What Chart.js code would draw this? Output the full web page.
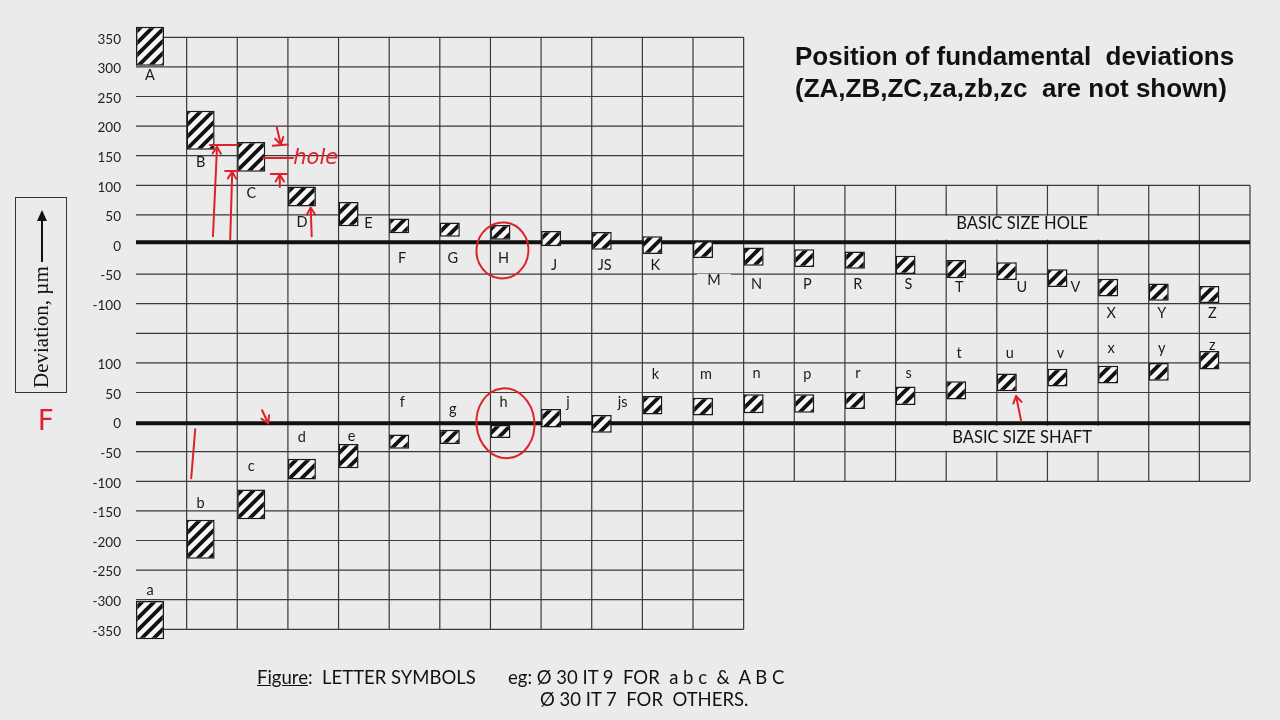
<!DOCTYPE html>
<html><head><meta charset="utf-8">
<script src="https://cdn.jsdelivr.net/npm/chart.js@4.4.1/dist/chart.umd.min.js"></script>
<style>
html,body{margin:0;padding:0;background:#ebebeb;}
#wrap{position:relative;width:1280px;height:720px;overflow:hidden;background:#ebebeb;}
#c{position:absolute;left:0;top:0;}
.title{position:absolute;left:795px;top:40px;font-family:"Liberation Sans",Arial,sans-serif;font-weight:bold;font-size:26px;line-height:32px;color:#111;white-space:pre;}
.ybox{position:absolute;left:15px;top:197px;width:52px;height:196px;border:1px solid #333;box-sizing:border-box;}
.yinner{position:absolute;left:50%;top:50%;width:196px;height:52px;margin-left:-98px;margin-top:-26px;transform:rotate(-90deg);display:flex;align-items:center;justify-content:flex-start;padding-left:5px;box-sizing:border-box;font-family:"Liberation Serif","Times New Roman",serif;font-size:21px;color:#111;white-space:pre;}
.arrow{display:inline-block;position:relative;width:48px;height:1.6px;background:#111;margin-left:4px;top:1px;}
.arrow:after{content:"";position:absolute;right:-4px;top:-4.2px;border-left:11px solid #111;border-top:5px solid transparent;border-bottom:5px solid transparent;}
.cap{position:absolute;font-family:Lato,"Open Sans",sans-serif;font-size:18.5px;line-height:20px;color:#111;white-space:pre;}
</style>
</head><body>
<div id="wrap">
<canvas id="c" width="1280" height="720"></canvas>
<div class="title">Position of fundamental  deviations
(ZA,ZB,ZC,za,zb,zc  are not shown)</div>
<div class="ybox"><div class="yinner">Deviation, µm<span class="arrow"></span></div></div>
<div class="cap" style="left:257px;top:667px;"><u>Figure</u>:  LETTER SYMBOLS</div>
<div class="cap" style="left:508px;top:667px;">eg: Ø 30 IT 9  FOR  a b c  &amp;  A B C</div>
<div class="cap" style="left:540px;top:689px;">Ø 30 IT 7  FOR  OTHERS.</div>
</div>
<script>
// ---- data (µm) ----
const holeLetters  = ['A','B','C','D','E','F','G','H','J','JS','K','M','N','P','R','S','T','U','V','X','Y','Z'];
const shaftLetters = ['a','b','c','d','e','f','g','h','j','js','k','m','n','p','r','s','t','u','v','x','y','z'];
const holeLower  = [302,160,123,64,31,19,13,8,-3,-9,-16,-23,-36,-38,-41,-50,-57,-60,-72,-88,-95,-99];
const holeUpper  = [368,226,173,98,72,44,37,33,23,21,14,6,-5,-8,-12,-19,-26,-30,-42,-58,-66,-70];
const shaftLower = [-367,-231,-164,-97,-78,-45,-37,-27,-9,-18,13,11,15,16,22,29,38,52,60,65,70,89];
const shaftUpper = [-302,-165,-114,-62,-37,-21,-13,-5,22,12,44,41,47,47,51,60,69,82,90,95,100,120];
// where each letter label sits (µm, same axis as its box)
const holeLabelAt  = [285,138,87,38,35,-23,-23,-23,-35,-36,-36,-60,-67,-67,-68,-67,-72,-72,-72,-116,-116,-116];
const shaftLabelAt = [-284,-138,-74,-25,-24,34,22,34,34,34,81,81,83,81,83,83,117,117,117,124,124,130];
// tick labels
const holeTicks  = [350,300,250,200,150,100,50,0,-50,-100];
const shaftTicks = [100,50,0,-50,-100,-150,-200,-250,-300,-350];
const IT9_COUNT = 4;          // a b c d / A B C D drawn with IT9 width
const SHAFT_SHIFT = -300;     // shaft diagram drawn 300 µm below the hole diagram
const FULL_COLS = 12;         // columns A..M span the full height

// red hand-written annotations: [column units from left edge, plotted µm]
const annotations = [
  {t:'arrow', p:[[1.52,14],[1.60,165]]},
  {t:'line',  p:[[1.46,168],[1.99,168]]},
  {t:'arrow', p:[[1.86,8],[1.90,123]]},
  {t:'line',  p:[[1.76,124],[2.01,124]]},
  {t:'arrow', p:[[2.78,198],[2.86,169]]},
  {t:'line',  p:[[2.70,167],[3.00,169]]},
  {t:'line',  p:[[2.51,146],[3.10,146]]},
  {t:'text',  p:[[3.55,146]], s:'hole', f:'italic 21px "DejaVu Sans"'},
  {t:'arrow', p:[[2.84,97],[2.84,118]]},
  {t:'line',  p:[[2.66,119],[2.98,119]]},
  {t:'arrow', p:[[3.47,14],[3.45,62]]},
  {t:'line',  p:[[1.17,-312],[1.09,-395]]},
  {t:'arrow', p:[[2.49,-280],[2.61,-302]]},
  {t:'arrow', p:[[17.48,-298],[17.38,-256]]},
  {t:'text',  p:[[-1.78,-301]], s:'F', f:'28px "DejaVu Sans"'}
];

// ---- helpers ----
const BG = '#ebebeb';
function hatchPattern(){
  const s=12, c=document.createElement('canvas'); c.width=c.height=s;
  const g=c.getContext('2d');
  g.fillStyle='#f6f6f6'; g.fillRect(0,0,s,s);
  g.strokeStyle='#111'; g.lineWidth=3.8; g.lineCap='butt';
  g.beginPath();
  g.moveTo(-1,s+1); g.lineTo(s+1,-1);
  g.moveTo(-4,4); g.lineTo(4,-4);
  g.moveTo(s-4,s+4); g.lineTo(s+4,s-4);
  g.stroke();
  return c;
}
function pick(lo,hi,shift,cond){ return lo.map((v,i)=>cond(i)?[v+shift,hi[i]+shift]:null); }

const labelNudge = {E:17, M:8, U:12, V:15, j:14, js:18};
const knockout = {M:true};

const gridPlugin = {
  id:'gridPlugin',
  beforeDatasetsDraw(chart){
    const {ctx, scales:{x,y}} = chart;
    const n = holeLetters.length;
    const band = x.getPixelForValue(1)-x.getPixelForValue(0);
    const edge = i => x.getPixelForValue(0) - band/2 + band*i;
    const yTop = y.getPixelForValue(350), yBot = y.getPixelForValue(-650);
    const rTop = y.getPixelForValue(100), rBot = y.getPixelForValue(-400);
    ctx.save();
    ctx.strokeStyle='#3a3a3a'; ctx.lineWidth=1.2;
    ctx.beginPath();
    for(let v=350; v>=-650; v-=50){
      if(v===0||v===-300) continue;
      const py=y.getPixelForValue(v);
      ctx.moveTo(edge(0),py);
      ctx.lineTo((v<=100&&v>=-400)?edge(n):edge(FULL_COLS),py);
    }
    for(let i=1;i<=n;i++){
      const px=edge(i);
      if(i<=FULL_COLS){ ctx.moveTo(px,yTop); ctx.lineTo(px,yBot); }
      else { ctx.moveTo(px,rTop); ctx.lineTo(px,rBot); }
    }
    ctx.stroke();
    // basic size lines
    const hy=y.getPixelForValue(4), sy=y.getPixelForValue(-302);
    ctx.strokeStyle='#111'; ctx.lineWidth=4;
    ctx.beginPath();
    ctx.moveTo(edge(0),hy); ctx.lineTo(edge(n),hy);
    ctx.moveTo(edge(0),sy); ctx.lineTo(edge(n),sy);
    ctx.stroke();
    // BASIC SIZE labels
    const l=edge(15)+1, r=edge(20)-1;
    ctx.fillStyle=BG;
    const h1=y.getPixelForValue(50)+1, h2=hy-2.5;
    const s1=sy+2.5, s2=y.getPixelForValue(-350)-1;
    ctx.fillRect(l,h1,r-l,h2-h1);
    ctx.fillRect(l,s1,r-l,s2-s1);
    ctx.fillStyle='#111'; ctx.font='16.5px Lato'; ctx.textAlign='center'; ctx.textBaseline='middle';
    ctx.fillText('BASIC SIZE HOLE',(l+r)/2,(h1+h2)/2-4);
    ctx.fillText('BASIC SIZE SHAFT',(l+r)/2,(s1+s2)/2-1);
    ctx.restore();
  },
  afterDatasetsDraw(chart){
    const {ctx, scales:{x,y}} = chart;
    const band = x.getPixelForValue(1)-x.getPixelForValue(0);
    const X = c => x.getPixelForValue(0) - band/2 + band*c;
    ctx.save();
    ctx.font='14.5px Lato'; ctx.textAlign='center'; ctx.textBaseline='middle';
    const draw=(txt,meta,i,val,shift)=>{
      const el=chart.getDatasetMeta(meta).data[i];
      const px=el.x+(i>=IT9_COUNT?3:0)+(labelNudge[txt]||0);
      const py=y.getPixelForValue(val+shift);
      if(knockout[txt]){ ctx.fillStyle=BG; ctx.fillRect(px-17,py-6,34,12); }
      ctx.fillStyle='#1a1a1a'; ctx.fillText(txt,px,py);
    };
    holeLetters.forEach((t,i)=>draw(t,i<IT9_COUNT?0:1,i,holeLabelAt[i],0));
    shaftLetters.forEach((t,i)=>draw(t,i<IT9_COUNT?2:3,i,shaftLabelAt[i],SHAFT_SHIFT));
    // red annotations
    const red='#e0202a';
    ctx.strokeStyle=red; ctx.fillStyle=red; ctx.lineWidth=2; ctx.lineCap='round'; ctx.lineJoin='round';
    const H=chart.getDatasetMeta(1).data[7], h=chart.getDatasetMeta(3).data[7];
    ctx.beginPath(); ctx.ellipse(H.x+2,y.getPixelForValue(-10),26,28,0.1,0,Math.PI*2); ctx.stroke();
    ctx.beginPath(); ctx.ellipse(h.x+5,y.getPixelForValue(-302),29,35,-0.1,0,Math.PI*2); ctx.stroke();
    annotations.forEach(a=>{
      const pts=a.p.map(([c,v])=>[X(c),y.getPixelForValue(v)]);
      if(a.t==='text'){ ctx.font=a.f; ctx.fillText(a.s,pts[0][0],pts[0][1]); return; }
      ctx.beginPath(); ctx.moveTo(pts[0][0],pts[0][1]);
      pts.slice(1).forEach(q=>ctx.lineTo(q[0],q[1])); ctx.stroke();
      if(a.t==='arrow'){
        const [x1,y1]=pts[pts.length-2], [x2,y2]=pts[pts.length-1];
        const ang=Math.atan2(y2-y1,x2-x1), L=8;
        ctx.beginPath();
        ctx.moveTo(x2-L*Math.cos(ang-0.55),y2-L*Math.sin(ang-0.55));
        ctx.lineTo(x2,y2);
        ctx.lineTo(x2-L*Math.cos(ang+0.55),y2-L*Math.sin(ang+0.55));
        ctx.stroke();
      }
    });
    ctx.restore();
  }
};

function build(){
  const pat = document.getElementById('c').getContext('2d').createPattern(hatchPattern(),'repeat');
  const common = {backgroundColor:pat, borderColor:'#1a1a1a', borderWidth:1.5, borderSkipped:false, stack:'box'};
  const it9 = {categoryPercentage:0.894, barPercentage:1.237};
  const it7 = {categoryPercentage:1.21, barPercentage:0.653};
  new Chart(document.getElementById('c'),{
    type:'bar',
    data:{
      labels:holeLetters,
      datasets:[
        Object.assign({label:'Hole IT9', data:pick(holeLower,holeUpper,0,i=>i<IT9_COUNT)},common,it9),
        Object.assign({label:'Hole IT7', data:pick(holeLower,holeUpper,0,i=>i>=IT9_COUNT)},common,it7),
        Object.assign({label:'Shaft IT9', data:pick(shaftLower,shaftUpper,SHAFT_SHIFT,i=>i<IT9_COUNT)},common,it9),
        Object.assign({label:'Shaft IT7', data:pick(shaftLower,shaftUpper,SHAFT_SHIFT,i=>i>=IT9_COUNT)},common,it7),
        {label:'pad', data:holeLetters.map(()=>null), stack:'pad'}
      ]
    },
    options:{
      responsive:false, animation:false, devicePixelRatio:1,
      layout:{padding:{left:0,top:37.3,right:30,bottom:90.7}},
      clip:false,
      plugins:{legend:{display:false}, tooltip:{enabled:false}, title:{display:false}},
      scales:{
        x:{type:'category', display:false, offset:true, grid:{display:false}},
        y:{type:'linear', min:-650, max:350, stacked:false,
           grid:{display:false, drawTicks:false}, border:{display:false},
           afterFit(s){ s.width=136; },
           ticks:{stepSize:50, autoSkip:false, padding:15, labelOffset:2, color:'#222',
             font:{family:'Lato', size:13.5},
             callback(v){
               if(holeTicks.includes(v)) return String(v);
               const sv=v-SHAFT_SHIFT;
               if(v<=-200 && shaftTicks.includes(sv)) return String(sv);
               return '';
             }}
        }
      }
    },
    plugins:[gridPlugin]
  });
}
Promise.all([document.fonts.load('14px Lato'),document.fonts.load('bold 26px "Liberation Sans"'),document.fonts.load('21px "Liberation Serif"')]).then(build,build);
</script>
</body></html>
